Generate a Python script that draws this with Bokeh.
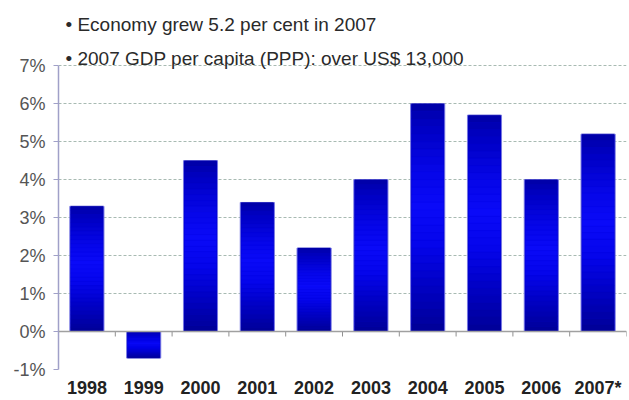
from bokeh.plotting import figure
from bokeh.models import Range1d, FixedTicker, PrintfTickFormatter, Label, Span, ColumnDataSource
from bokeh.embed import file_html
from bokeh.resources import INLINE

years = ["1998", "1999", "2000", "2001", "2002", "2003", "2004", "2005", "2006", "2007*"]
growth = [3.3, -0.7, 4.5, 3.4, 2.2, 4.0, 6.0, 5.7, 4.0, 5.2]
y_ticks = [-1, 0, 1, 2, 3, 4, 5, 6, 7]
notes = ["\u2022 Economy grew 5.2 per cent in 2007",
         "\u2022 2007 GDP per capita (PPP): over US$ 13,000"]

FONT = "Liberation Sans"

# layout (pixels)
W, H = 629, 400
TOP, BOTTOM, LEFT, RIGHT = 2, 27, 58, 3
AXIS_TOP_PX = 66            # where the 7% line sits, from figure top
px_per_unit = (H - BOTTOM - AXIS_TOP_PX) / (y_ticks[-1] - y_ticks[0])
y_top = y_ticks[-1] + (AXIS_TOP_PX - TOP) / px_per_unit
px_per_x = (W - LEFT - RIGHT) / len(years)

p = figure(width=W, height=H, output_backend="svg", toolbar_location=None,
           x_range=Range1d(0.5, len(years) + 0.5), y_range=Range1d(y_ticks[0], y_top),
           min_border_left=LEFT, min_border_right=RIGHT, min_border_top=TOP,
           min_border_bottom=BOTTOM)
p.outline_line_color = None
p.background_fill_color = "white"

xs = list(range(1, len(years) + 1))
BAR_W = 0.6

# zero line with category-boundary ticks
p.add_layout(Span(location=0, dimension="width", line_color="#a0a0a0", line_width=1.5))
bnd = [x + 0.5 for x in [0] + xs]
p.segment(x0=bnd, x1=bnd, y0=[0] * len(bnd), y1=[-5 / px_per_unit] * len(bnd),
          line_color="#909090", line_width=1)

p.vbar(x=xs, top=growth, bottom=0, width=BAR_W, fill_color="#0000d0",
       line_color="#7878e0", line_width=1)

# vertical gradient bands over each bar
stops = [(0.0, (0, 0, 165)), (0.1, (0, 0, 195)), (0.3, (6, 6, 232)), (0.45, (10, 10, 248)),
         (0.62, (5, 5, 235)), (0.85, (0, 0, 185)), (1.0, (0, 0, 150))]

def shade(f):
    for (f0, c0), (f1, c1) in zip(stops[:-1], stops[1:]):
        if f0 <= f <= f1:
            t = (f - f0) / (f1 - f0)
            c = [round(a + (b - a) * t) for a, b in zip(c0, c1)]
            return "#%02x%02x%02x" % tuple(c)
    return "#0000c0"

N = 30
bx, btop, bbot, bcol = [], [], [], []
for x, v in zip(xs, growth):
    hi, lo = max(v, 0), min(v, 0)
    for k in range(N):
        f0, f1 = k / N, (k + 1) / N
        bx.append(x)
        btop.append(hi - f0 * (hi - lo))
        bbot.append(hi - f1 * (hi - lo))
        bcol.append(shade((f0 + f1) / 2))
src = ColumnDataSource(dict(x=bx, top=btop, bottom=bbot, color=bcol))
p.vbar(x="x", top="top", bottom="bottom", width=BAR_W - 2 / px_per_x, fill_color="color",
       line_color="color", line_width=0.3, source=src)

# x axis (labels only)
p.xaxis.ticker = FixedTicker(ticks=xs)
p.xaxis.major_label_overrides = {x: y for x, y in zip(xs, years)}
p.xaxis.axis_line_color = None
p.xaxis.major_tick_line_color = None
p.xaxis.minor_tick_line_color = None
p.xaxis.major_tick_out = 0
p.xaxis.major_label_standoff = 8
p.xaxis.major_label_text_font = FONT
p.xaxis.major_label_text_font_size = "18px"
p.xaxis.major_label_text_font_style = "bold"
p.xaxis.major_label_text_color = "#222222"
p.xgrid.visible = False

# y axis
p.yaxis.ticker = FixedTicker(ticks=y_ticks)
p.yaxis.bounds = (y_ticks[0], y_ticks[-1])
p.yaxis.formatter = PrintfTickFormatter(format="%d%%")
p.yaxis.axis_line_color = "#a0a0c8"
p.yaxis.axis_line_width = 1.5
p.yaxis.major_tick_line_color = "#a0a0c8"
p.yaxis.major_tick_in = 0
p.yaxis.major_tick_out = 5
p.yaxis.minor_tick_line_color = None
p.yaxis.major_label_standoff = 8
p.yaxis.major_label_text_font = FONT
p.yaxis.major_label_text_font_size = "18px"
p.yaxis.major_label_text_color = "#555555"

p.ygrid.ticker = FixedTicker(ticks=y_ticks)
p.ygrid.grid_line_color = "#a8bab2"
p.ygrid.grid_line_dash = "3 2"
p.ygrid.grid_line_width = 1

note_px = [24, 59]   # vertical centres of the two notes, from figure top
for txt, ypx in zip(notes, note_px):
    yy = y_ticks[-1] + (AXIS_TOP_PX - ypx) / px_per_unit
    p.add_layout(Label(x=0.5 + 7 / px_per_x, y=yy, text=txt, text_font=FONT,
                       text_font_size="19px", text_color="#2a2a2a",
                       text_baseline="middle", text_align="left"))

open("out.html", "w").write(file_html(p, INLINE))
